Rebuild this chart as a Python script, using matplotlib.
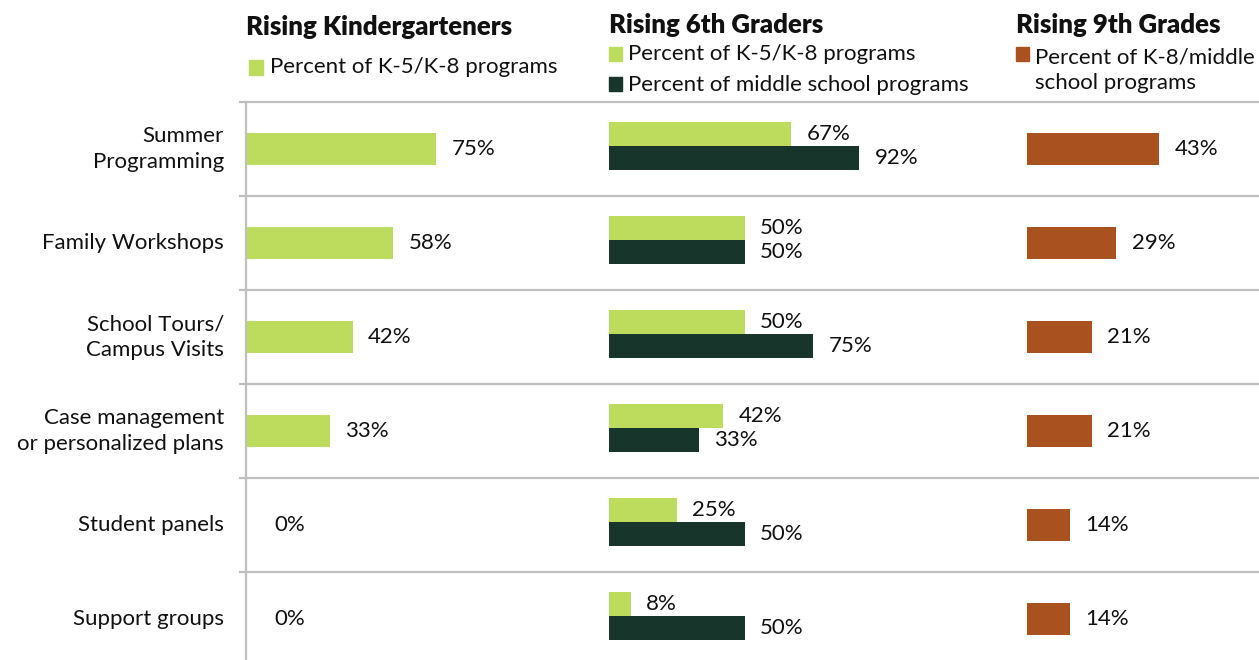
import matplotlib.pyplot as plt

# data
categories = ["Summer\nProgramming", "Family Workshops", "School Tours/\nCampus Visits",
              "Case management\nor personalized plans", "Student panels", "Support groups"]
kinder_k5 = [75, 58, 42, 33, 0, 0]
sixth_k5 = [67, 50, 50, 42, 25, 8]
sixth_ms = [92, 50, 75, 33, 50, 50]
ninth_k8 = [43, 29, 21, 21, 14, 14]

panel_titles = ["Rising Kindergarteners", "Rising 6th Graders", "Rising 9th Grades"]
legend_k5 = "Percent of K-5/K-8 programs"
legend_ms = "Percent of middle school programs"
legend_k8 = "Percent of K-8/middle\nschool programs"

LIGHT = "#bddc5e"
DARK = "#17352b"
BROWN = "#a9521f"
GRID = "#bfbfbf"
TXT = "#111111"

plt.rcParams['font.family'] = ['Lato', 'DejaVu Sans']
FS = 16
TFS = 18.5

W, H = 1259, 660
fig = plt.figure(figsize=(W / 100, H / 100), dpi=100)

# background axes in pixel coordinates for separators, labels and headers
bg = fig.add_axes([0, 0, 1, 1])
bg.set_xlim(0, W)
bg.set_ylim(H, 0)
bg.axis('off')

top, row_h = 102, 94
for i in range(len(categories)):
    y = top + i * row_h
    bg.plot([239, W], [y, y], color=GRID, lw=1.6, solid_capstyle='butt')
    bg.text(224, y + row_h / 2, categories[i], ha='right', va='center',
            fontsize=FS, color=TXT, linespacing=1.35)
bg.plot([246, 246], [top, H], color=GRID, lw=1.6)

# panel headers and legends
bg.text(246, 27, panel_titles[0], fontsize=TFS, fontweight='heavy', va='center', color=TXT)
bg.add_patch(plt.Rectangle((249, 60), 14, 15, color=LIGHT))
bg.text(270, 67, legend_k5, fontsize=FS, va='center', color=TXT)

bg.text(609, 25, panel_titles[1], fontsize=TFS, fontweight='heavy', va='center', color=TXT)
bg.add_patch(plt.Rectangle((609, 47), 13, 14, color=LIGHT))
bg.text(628, 54, legend_k5, fontsize=FS, va='center', color=TXT)
bg.add_patch(plt.Rectangle((609, 77), 13, 14, color=DARK))
bg.text(628, 85, legend_ms, fontsize=FS, va='center', color=TXT)

bg.text(1016, 25, panel_titles[2], fontsize=TFS, fontweight='heavy', va='center', color=TXT)
bg.add_patch(plt.Rectangle((1016, 47), 13, 14, color=BROWN))
bg.text(1035, 70, legend_k8, fontsize=FS, va='center', color=TXT, linespacing=1.35)


def bar_axes(left_px, width_px, px_per_pct):
    ax = fig.add_axes([left_px / W, 0, width_px / W, (H - top) / H])
    ax.set_xlim(0, width_px / px_per_pct)
    ax.set_ylim(-0.5 + (H - top) / row_h, -0.5)
    ax.axis('off')
    return ax


def label_bars(ax, bars, values):
    for b, v in zip(bars, values):
        # zero values sit a little further out in the original
        off = 11 if v > 0 else 20
        ax.annotate(f"{v}%", (b.get_width(), b.get_y() + b.get_height() / 2),
                    xytext=(off, 0), textcoords='offset points', va='center',
                    fontsize=FS, color=TXT)


rows = list(range(len(categories)))

ax1 = bar_axes(247, 350, 2.52)
b = ax1.barh(rows, kinder_k5, height=0.34, color=LIGHT)
label_bars(ax1, b, kinder_k5)

ax2 = bar_axes(609, 380, 2.72)
bh = 0.255
b = ax2.barh([r - bh / 2 - 0.03 for r in rows], sixth_k5, height=bh, color=LIGHT)
label_bars(ax2, b, sixth_k5)
b = ax2.barh([r + bh / 2 - 0.03 for r in rows], sixth_ms, height=bh, color=DARK)
label_bars(ax2, b, sixth_ms)

ax3 = bar_axes(1027, 232, 3.08)
b = ax3.barh(rows, ninth_k8, height=0.33, color=BROWN)
label_bars(ax3, b, ninth_k8)

fig.savefig("out.png", dpi=100)
